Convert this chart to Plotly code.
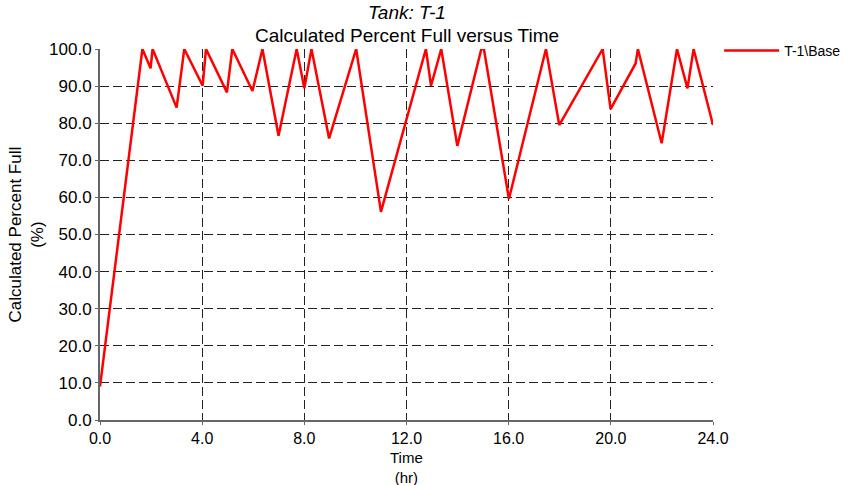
import plotly.graph_objects as go

time_hr = [0.0, 1.66, 1.98, 2.06, 3.0, 3.3, 4.02, 4.15, 4.97, 5.18, 5.97, 6.36, 6.99, 7.7, 8.0, 8.28,
           8.97, 10.03, 11.0, 12.76, 12.96, 13.36, 13.99, 14.93, 15.03, 16.01, 17.46, 17.98, 19.68,
           19.99, 20.97, 21.06, 21.99, 22.59, 23.0, 23.24, 24.0]
percent_full = [9.0, 100.0, 94.8, 100.0, 84.2, 100.0, 90.1, 100.0, 88.3, 100.0, 88.7, 100.0, 76.6,
                100.0, 89.4, 100.0, 75.9, 100.0, 56.1, 100.0, 90.1, 100.0, 73.9, 100.0, 100.0, 59.6,
                100.0, 79.5, 100.0, 83.8, 96.1, 100.0, 74.6, 100.0, 89.4, 100.0, 79.5]
x_ticks = [0, 4, 8, 12, 16, 20, 24]
y_ticks = [0, 10, 20, 30, 40, 50, 60, 70, 80, 90, 100]

font = "Liberation Sans, Arial, sans-serif"

fig = go.Figure()
fig.add_trace(go.Scatter(x=time_hr, y=percent_full, mode="lines", name="T-1\\Base",
                         line=dict(color="#ff0000", width=2.5), cliponaxis=False))


def txt(text, x, y, xshift=0, yshift=0, size=18, angle=0):
    return dict(text=text, xref="paper", yref="paper", x=x, y=y, xshift=xshift, yshift=yshift,
                xanchor="center", yanchor="middle", showarrow=False, textangle=angle,
                font=dict(size=size))


fig.update_layout(
    width=852, height=485,
    margin=dict(l=100, r=139, t=49, b=65, autoexpand=False),
    paper_bgcolor="white", plot_bgcolor="white",
    font=dict(family=font, color="black", size=17),
    showlegend=True,
    legend=dict(x=1.01, y=1.038, xanchor="left", yanchor="top", font=dict(size=14),
                bgcolor="rgba(0,0,0,0)", itemwidth=55),
    annotations=[
        txt("<i>Tank: T-1</i>", 0.5, 1.0, yshift=37, size=19),
        txt("Calculated Percent Full versus Time", 0.5, 1.0, yshift=14, size=19),
        txt("Time<br>(hr)", 0.5, 0.0, yshift=-47, size=15),
        txt("Calculated Percent Full<br>(%)", 0.0, 0.5, xshift=-74, angle=-90, size=17),
    ],
)
axis_style = dict(showgrid=True, gridcolor="#222222", griddash="9px,4px", gridwidth=1,
                  showline=True, linecolor="#666666", linewidth=2, zeroline=False, automargin=False,
                  ticks="outside", ticklen=3, tickcolor="#666666", tickwidth=1)
fig.update_xaxes(range=[0, 24], tickvals=x_ticks, ticktext=[f"{v:.1f}" for v in x_ticks],
                 tickfont=dict(size=16), **axis_style)
fig.update_yaxes(range=[0, 100], tickvals=y_ticks, ticktext=[f"{v:.1f}" for v in y_ticks],
                 tickfont=dict(size=17), **axis_style)

fig.write_html("out.html", config={"displayModeBar": False},
               post_script="document.body.style.margin='0px';")
